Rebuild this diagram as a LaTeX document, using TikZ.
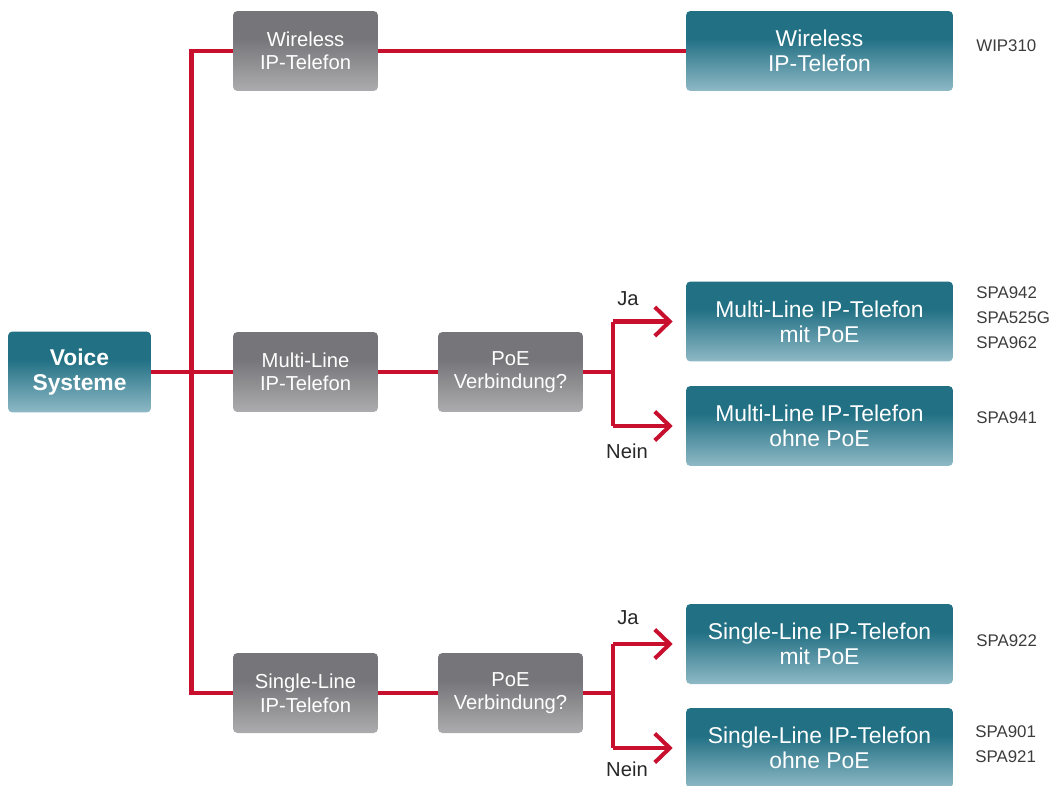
\documentclass[tikz,border=0pt]{standalone}
\usepackage{fontspec}
\setmainfont{Liberation Sans}
\usetikzlibrary{arrows.meta}
\definecolor{tealD}{RGB}{33,112,132}
\definecolor{tealL}{RGB}{143,185,198}
\definecolor{grayD}{RGB}{118,118,122}
\definecolor{grayL}{RGB}{172,172,174}
\definecolor{redL}{RGB}{200,16,46}
\definecolor{txt}{RGB}{40,40,40}
\definecolor{mtxt}{RGB}{60,60,60}
\pgfdeclareverticalshading{tealsh}{100bp}{color(0bp)=(tealL); color(25bp)=(tealL); color(58bp)=(tealD); color(75bp)=(tealD); color(100bp)=(tealD)}
\pgfdeclareverticalshading{graysh}{100bp}{color(0bp)=(grayL); color(25bp)=(grayL); color(58bp)=(grayD); color(75bp)=(grayD); color(100bp)=(grayD)}
\tikzset{
  tbox/.style={shading=tealsh, rounded corners=2.5pt, text=white, align=center, inner sep=0pt,
    minimum width=5.34cm, minimum height=1.6cm, font=\fontsize{13}{14.2}\selectfont},
  vbox/.style={tbox, minimum width=2.86cm, minimum height=1.62cm, font=\fontsize{13}{14.4}\selectfont\bfseries},
  gbox/.style={shading=graysh, rounded corners=2.5pt, text=white, align=center, inner sep=0pt,
    minimum width=2.9cm, minimum height=1.6cm, font=\fontsize{11.5}{13.4}\selectfont},
  wire/.style={draw=redL, line width=2.3pt},
  arr/.style={wire, -{Straight Barb[length=0.3cm, width=0.58cm, line width=2.3pt]}, shorten >=0.26cm},
  lbl/.style={text=txt, font=\fontsize{11.5}{13}\selectfont, inner sep=0pt},
  model/.style={text=mtxt, font=\fontsize{9.6}{14.3}\selectfont, anchor=west, align=left, inner sep=0pt}
}
\begin{document}
\begin{tikzpicture}[x=0.02cm, y=-0.02cm]
\useasboundingbox (0,0) rectangle (1059,785);
\clip (0,0) rectangle (1059,785);
% nodes
\node[vbox] (voice) at (79.5,372) {Voice\\Systeme};
\node[gbox] (gw) at (305.5,51) {Wireless\\IP-Telefon};
\node[gbox] (gm) at (305.5,372) {Multi-Line\\IP-Telefon};
\node[gbox] (gs) at (305.5,693) {Single-Line\\IP-Telefon};
\node[gbox] (pm) at (510.5,372) {PoE\\Verbindung?};
\node[gbox] (ps) at (510.5,693) {PoE\\Verbindung?};
\node[tbox] (tw) at (819.5,51) {Wireless\\IP-Telefon};
\node[tbox] (tmm) at (819.5,321.5) {Multi-Line IP-Telefon\\mit PoE};
\node[tbox] (tmo) at (819.5,426) {Multi-Line IP-Telefon\\ohne PoE};
\node[tbox] (tsm) at (819.5,644) {Single-Line IP-Telefon\\mit PoE};
\node[tbox] (tso) at (819.5,748) {Single-Line IP-Telefon\\ohne PoE};
% labels
\node[lbl] (ja1) at (628,299) {Ja};
\node[lbl] (nein1) at (627,451) {Nein};
\node[lbl] (ja2) at (628,618) {Ja};
\node[lbl] (nein2) at (627,769) {Nein};
\node[model] (m1) at (976,46) {WIP310};
\node[model] (m2) at (976,318) {SPA942\\SPA525G\\SPA962};
\node[model] (m3) at (976,418) {SPA941};
\node[model] (m4) at (976,641) {SPA922};
\node[model] (m5) at (975,744) {SPA901\\SPA921};
% coordinates
\coordinate (tt) at (191.5,51);
\coordinate (tb) at (191.5,693);
\coordinate (bm) at (613,372);
\coordinate (bmt) at (613,323);
\coordinate (bmb) at (613,426);
\coordinate (bs) at (613,693);
\coordinate (bst) at (613,642);
\coordinate (bsb) at (613,746);
% connectors
\draw[wire] (gw.west) -- (tt) -- (tb) -- (gs.west);
\draw[wire] (voice.east) -- (gm.west);
\draw[wire] (gw.east) -- (tw.west);
\draw[wire] (gm.east) -- (pm.west);
\draw[wire] (gs.east) -- (ps.west);
\draw[wire] (pm.east) -- (bm);
\draw[wire] (ps.east) -- (bs);
\draw[arr] (tmm.west -| bmt) -- (tmm.west);
\draw[arr] (tmo.west -| bmb) -- (tmo.west);
\draw[arr] (tsm.west -| bst) -- (tsm.west);
\draw[arr] (tso.west -| bsb) -- (tso.west);
\draw[wire] (tmm.west -| bmt) -- (tmo.west -| bmb);
\draw[wire] (tsm.west -| bst) -- (tso.west -| bsb);
\end{tikzpicture}
\end{document}
